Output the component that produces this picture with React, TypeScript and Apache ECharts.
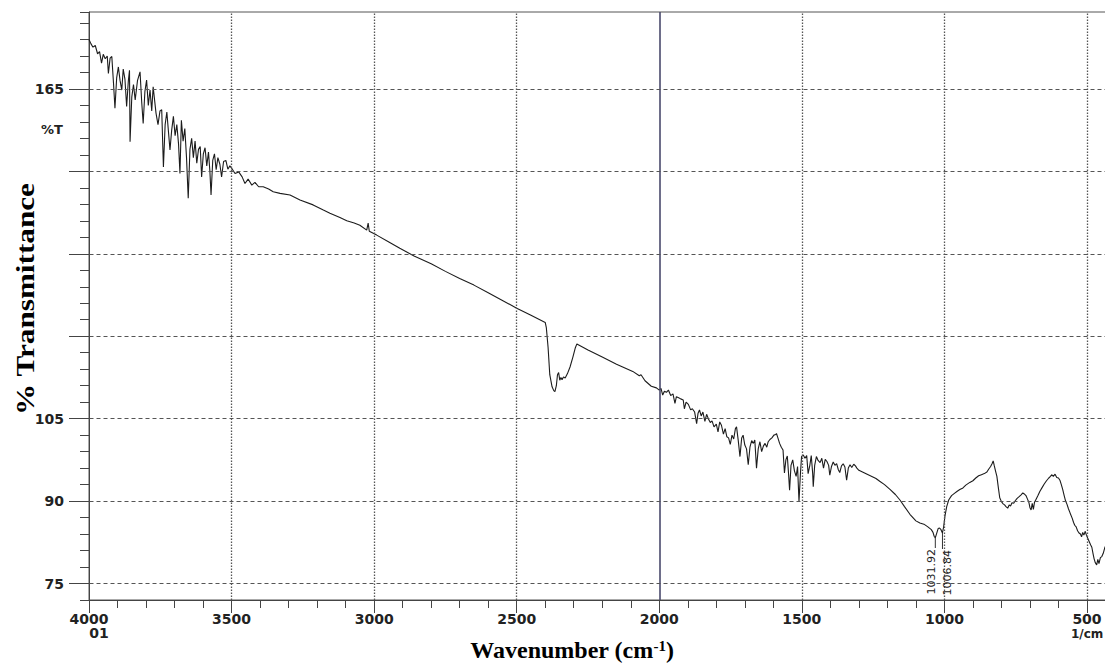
import React, { useEffect, useRef } from "react";
import * as echarts from "echarts";

// Axis ticks / labels
const xLabelValues = [4000, 3500, 3000, 2500, 2000, 1500, 1000, 500];
const xDottedGrid = [3500, 3000, 2500, 1500, 1000, 500];
const xSolidGrid = [2000];
const yLabelValues = [165, 105, 90, 75];
const yGridValues = [165, 150, 135, 120, 105, 90, 75];
const peakWavenumbers = [1031.92, 1006.84];
const peakTransmittance = [83.3, 84.2];

// Spectrum: [wavenumber (1/cm), %T]
const highFreqNoisy: number[][] = [
  [4000, 174], [3993, 173.2], [3986, 172.6], [3978, 172.9], [3970, 171.4], [3963, 171.8], [3956, 169.7],
  [3950, 171.3], [3943, 170.5], [3936, 171], [3932, 167.8], [3926, 170.6], [3920, 170.9], [3914, 166],
  [3909, 161.5], [3903, 167], [3897, 169], [3891, 166.5], [3885, 164.8], [3880, 168.6], [3874, 166.8],
  [3868, 161.8], [3862, 166.5], [3858, 168.4], [3856, 155.4], [3850, 163.5], [3844, 165.8], [3838, 163],
  [3830, 166.5], [3821, 168.1], [3815, 162.5], [3810, 158.7], [3804, 164.5], [3798, 166.6], [3792, 162],
  [3786, 164.8], [3780, 161], [3775, 165.4], [3769, 162.5], [3765, 160.6], [3758, 158.5], [3751, 161],
  [3745, 161.2], [3739, 150.8], [3733, 158.5], [3727, 160.8], [3721, 157], [3716, 153.9], [3710, 157.5],
  [3704, 160], [3698, 156.5], [3692, 158.5], [3686, 155], [3681, 149.6], [3676, 159.3], [3670, 155.5],
  [3664, 157.8], [3658, 152.5], [3652, 145.1], [3646, 154], [3640, 156], [3634, 152.5], [3628, 155.5],
  [3622, 151.5], [3616, 154], [3610, 154.5], [3605, 149], [3599, 153.2], [3593, 154.3], [3587, 151],
  [3581, 153.5], [3576, 150], [3572, 145.7], [3566, 152], [3560, 153.2], [3554, 150.3], [3548, 152.5],
  [3541, 151.3], [3535, 149], [3528, 151.8], [3520, 152], [3513, 150.4], [3506, 151], [3500, 150.6],
  [3488, 149.6], [3475, 149.9], [3463, 149], [3453, 147.8], [3442, 148.6], [3429, 147.5], [3418, 148],
  [3405, 147.2], [3389, 147.2], [3370, 146.8], [3354, 146.3], [3330, 146], [3295, 145.7], [3260, 144.8],
  [3214, 143.9], [3180, 143], [3155, 142.4], [3120, 141.6], [3096, 141], [3070, 140.6], [3050, 140.2],
  [3026, 139.3], [3021, 140.6], [3017, 139.1], [2991, 138.4], [2950, 137.2], [2910, 136], [2860, 134.6],
  [2800, 133.2], [2750, 131.8], [2700, 130.5], [2650, 129.3], [2600, 127.9], [2550, 126.5], [2500, 125.1],
  [2450, 123.8], [2400, 122.5],
];

const co2Band: number[][] = [
  [2396, 121.5], [2390, 118], [2384, 113], [2376, 110.8], [2370, 110.1], [2366, 109.9], [2361, 111],
  [2357, 113], [2353, 113.4], [2349, 112], [2345, 112.5], [2341, 112.1], [2336, 112.6], [2330, 112.4],
  [2322, 113.2], [2313, 114.4], [2303, 116.2], [2295, 117.8], [2289, 118.6], [2250, 117.5], [2200, 116.2],
  [2150, 114.9], [2093, 113.6], [2070, 112.8], [2064, 113], [2050, 111.9], [2028, 110.9], [2010, 110.6],
  [2000, 110.2],
];

const midNoisy: number[][] = [
  [1994, 110.5], [1988, 109.3], [1982, 110], [1975, 109.8], [1968, 110.2], [1960, 109.2], [1952, 109.5],
  [1945, 107.8], [1940, 109], [1932, 108.8], [1925, 108.6], [1916, 108.4], [1912, 106.8], [1906, 108],
  [1898, 107.6], [1890, 106.6], [1884, 106.8], [1876, 106.2], [1869, 104.1], [1864, 106], [1859, 106.6],
  [1853, 105.5], [1847, 106.2], [1840, 104.5], [1834, 105.8], [1828, 105], [1821, 104.3], [1815, 104.6],
  [1808, 103.5], [1800, 104], [1794, 102.6], [1788, 104.4], [1782, 103.8], [1775, 102.2], [1769, 103.2],
  [1763, 101.7], [1757, 101.5], [1751, 100.3], [1745, 102], [1739, 101.3], [1733, 103.2], [1729, 103.5],
  [1723, 101], [1717, 98.1], [1711, 101.5], [1706, 102], [1700, 100.2], [1694, 99.5], [1688, 96.6],
  [1682, 99.8], [1676, 101], [1670, 100.5], [1665, 101.1], [1659, 96], [1653, 99.5], [1647, 100.8],
  [1641, 99], [1635, 100], [1629, 100.5], [1623, 99.8], [1618, 100.8], [1612, 101.2], [1605, 101.5],
  [1598, 102], [1592, 102.1], [1589, 102.3], [1584, 101.5], [1578, 100.5], [1572, 99.8], [1566, 99.3],
  [1561, 95.1], [1556, 97.5], [1551, 98.2], [1546, 94.5], [1543, 92], [1538, 96.5], [1532, 97.5],
  [1526, 95.5], [1520, 94.5], [1515, 96.3], [1510, 89.9], [1505, 95], [1501, 98.1], [1495, 98.4],
  [1489, 97.8], [1483, 98.3], [1478, 95], [1472, 96.5], [1467, 98.3], [1462, 95], [1460, 92.6],
  [1455, 96.5], [1449, 98.1], [1443, 97.4], [1436, 97], [1430, 97.8], [1424, 96], [1418, 97.6],
  [1412, 97.2], [1406, 96.5], [1402, 94.7], [1396, 96.3], [1390, 97.1], [1384, 96.5], [1378, 96.8],
  [1372, 95.7], [1367, 95.2], [1361, 96.4], [1355, 96.8], [1349, 96.2], [1343, 93.8], [1337, 96],
  [1331, 96.6], [1325, 96.1], [1318, 96.7], [1312, 96.4], [1307, 96], [1300, 95.6],
];

const fingerprint: number[][] = [
  [1280, 95.1], [1260, 94.6], [1240, 94.1], [1227, 93.6], [1210, 93], [1190, 92.1], [1172, 91.2],
  [1156, 90.2], [1140, 89], [1121, 87.6], [1100, 86.4], [1086, 86], [1072, 85.8], [1058, 85.3],
  [1046, 84.8], [1040, 84.3], [1036, 83.6], [1032, 83.3], [1028, 84], [1022, 85], [1017, 85.1],
  [1012, 84.8], [1007, 84.2], [1003, 85.2], [998, 87.3], [992, 89], [985, 90.2], [975, 91], [965, 91.4],
  [955, 91.8], [946, 92.1], [935, 92.4], [925, 92.9], [911, 93.4], [900, 93.7], [890, 94.2], [880, 94.6],
  [870, 94.8], [860, 95], [851, 95.3], [845, 95.8], [838, 96.3], [833, 96.8], [829, 97.3], [825, 96.4],
  [820, 95.3], [816, 94.5], [811, 92.5], [806, 90.6], [800, 89.9], [794, 89.5], [789, 89.3], [784, 89],
  [778, 88.7], [773, 89.3], [768, 89.1], [763, 89.7], [757, 89.6], [751, 90.1], [745, 90.5], [738, 90.8],
  [732, 91.1], [725, 91.5], [720, 91.3], [714, 91], [709, 90.4], [704, 89.8], [700, 88.8], [696, 88.4],
  [692, 89.6], [688, 88.5], [684, 89.8], [678, 90.4], [672, 91], [665, 91.8], [658, 92.4], [650, 93.1],
  [642, 93.7], [634, 94.2], [628, 94.5], [624, 94.8], [618, 94.5], [612, 94.9], [606, 94.3], [600, 94.2],
  [595, 93.8], [590, 93], [585, 92.1], [580, 91], [575, 90], [570, 89.4], [565, 88.6], [559, 87.8],
  [552, 86.9], [547, 86.1], [543, 85.6], [538, 85.3], [533, 84.6], [528, 84.2], [523, 84], [519, 83.5],
  [515, 84.3], [511, 83.8], [506, 84.5], [502, 83.8], [497, 83.2], [492, 82.6], [487, 82], [483, 81.6],
  [479, 80.5], [475, 79.5], [471, 78.8], [466, 78.4], [462, 79.4], [458, 78.6], [453, 79.7], [448, 79.9],
  [443, 80.5], [437, 81.6], [430, 82.3],
];

const spectrum = [...highFreqNoisy, ...co2Band, ...midNoisy, ...fingerprint];

const tickFont = { fontFamily: "DejaVu Sans", fontWeight: "bold" as const, fontSize: 14, color: "#222" };
const serif = '"Liberation Serif", "Times New Roman", serif';

export default function App() {
  const ref = useRef<HTMLDivElement>(null);
  useEffect(() => {
    if (!ref.current) return;
    const chart = echarts.init(ref.current, undefined, { renderer: "svg" });
    const option: any = {
      animation: false,
      backgroundColor: "#ffffff",
      grid: {
        left: 89, top: 12, right: -10.5, bottom: 71,
        show: true, borderColor: "#555", borderWidth: 1,
        containLabel: false, outerBoundsMode: "none",
      },
      xAxis: [
        {
          type: "value", inverse: true, min: 400, max: 4000, interval: 100, position: "bottom",
          axisLine: { show: true, lineStyle: { color: "#444", width: 1 } },
          axisTick: { show: true, length: 8, lineStyle: { color: "#444" } },
          axisLabel: { show: false },
          splitLine: { show: false },
        },
        {
          type: "value", inverse: true, min: 400, max: 4000, position: "bottom",
          axisLine: { show: false },
          axisTick: { show: true, customValues: xLabelValues, length: 13, lineStyle: { color: "#444" } },
          axisLabel: { show: true, customValues: xLabelValues, margin: 12, formatter: (v: number) => String(v), ...tickFont },
          splitLine: { show: false },
        },
      ],
      yAxis: [
        {
          type: "value", min: 72, max: 179, interval: 3, position: "left",
          axisLine: { show: true, lineStyle: { color: "#444", width: 1 } },
          axisTick: { show: true, length: 9, lineStyle: { color: "#444" } },
          axisLabel: { show: false },
          splitLine: { show: false },
        },
        {
          type: "value", min: 72, max: 179, position: "left",
          axisLine: { show: false },
          axisTick: { show: true, customValues: yGridValues, length: 20, lineStyle: { color: "#444" } },
          axisLabel: { show: true, customValues: yLabelValues, margin: 25, formatter: (v: number) => String(v), ...tickFont },
          splitLine: { show: false },
        },
      ],
      series: [
        {
          type: "line",
          xAxisIndex: 0,
          yAxisIndex: 0,
          data: spectrum,
          showSymbol: false,
          symbol: "none",
          lineStyle: { color: "#1c1c1c", width: 1.1 },
          markLine: {
            silent: true,
            symbol: ["none", "none"],
            label: { show: false },
            emphasis: { disabled: true },
            data: [
              ...xDottedGrid.map((v) => ({ xAxis: v, lineStyle: { type: [1.5, 1.5], color: "#555", width: 1.3 } })),
              ...xSolidGrid.map((v) => ({ xAxis: v, lineStyle: { type: "solid", color: "#4a4a6c", width: 1.6 } })),
              ...yGridValues.map((v) => ({ yAxis: v, lineStyle: { type: [4, 3], color: "#555", width: 1 } })),
            ],
          },
          markPoint: {
            silent: true,
            symbol: "rect",
            itemStyle: { color: "#333" },
            label: {
              show: true, position: "bottom", distance: 1, rotate: 90,
              align: "right", verticalAlign: "middle",
              fontSize: 11, color: "#222", fontFamily: "DejaVu Sans",
              formatter: (p: any) => p.name,
            },
            data: peakWavenumbers.map((wn, i) => ({
              name: wn.toFixed(2),
              coord: [wn, peakTransmittance[i]],
              symbolSize: [1, i === 0 ? 10 : 16],
              symbolOffset: [0, i === 0 ? 5 : 8],
              label: { offset: [0, i === 0 ? -4 : 5] },
            })),
          },
        },
      ],
      graphic: [
        {
          type: "text", x: 63, y: 129,
          style: { text: "%T", font: 'bold 13px "DejaVu Sans"', fill: "#222", align: "right", verticalAlign: "middle" },
        },
        {
          type: "text", x: 99, y: 633,
          style: { text: "01", font: 'bold 14px "DejaVu Sans"', fill: "#222", align: "center", verticalAlign: "middle" },
        },
        {
          type: "text", x: 1071, y: 634,
          style: { text: "1/cm", font: 'bold 12px "DejaVu Sans"', fill: "#222", align: "left", verticalAlign: "middle" },
        },
        {
          type: "text", x: 25, y: 299, rotation: Math.PI / 2, scaleX: 1.2,
          style: { text: "% Transmittance", font: `bold 26px ${serif}`, fill: "#000", align: "center", verticalAlign: "middle" },
        },
        {
          type: "text", x: 572, y: 650,
          style: {
            text: "{a|Wavenumber (cm}{s|-1}{a|)}",
            align: "center", verticalAlign: "middle",
            rich: {
              a: { fontFamily: serif, fontWeight: "bold", fontSize: 24, fill: "#000", color: "#000" },
              s: { fontFamily: serif, fontWeight: "bold", fontSize: 15, fill: "#000", color: "#000", verticalAlign: "top" },
            },
          },
        },
      ],
    };
    chart.setOption(option);
    return () => chart.dispose();
  }, []);
  return (
    <div
      ref={ref}
      style={{ position: "absolute", left: 0, top: 0, width: 1105, height: 671, background: "#fff" }}
    />
  );
}
